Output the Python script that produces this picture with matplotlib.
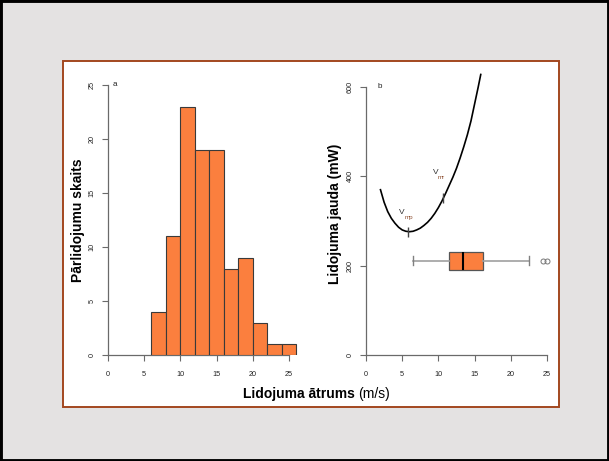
import matplotlib
matplotlib.use("Agg")
import matplotlib.pyplot as plt
from matplotlib.patches import Rectangle

plt.rcParams['font.family'] = ['Liberation Sans', 'DejaVu Sans']

# ---- data ----
bin_edges = [6, 8, 10, 12, 14, 16, 18, 20, 22, 24, 26]
bin_counts = [4, 11, 23, 19, 19, 8, 9, 3, 1, 1]

curve_speed = [2.0, 2.5, 3.0, 3.5, 4.0, 4.5, 5.0, 5.5, 6.0, 6.5, 7.0, 7.5, 8.0, 8.5,
               9.0, 9.5, 10.0, 10.5, 11.0, 11.5, 12.0, 12.5, 13.0, 13.5, 14.0,
               14.5, 15.0, 15.5, 15.85]
curve_power = [370, 342, 321, 306, 295, 286, 280, 277, 276, 277, 280, 284, 290, 297,
               306, 317, 330, 345, 362, 380, 398, 418, 441, 466, 493,
               524, 562, 600, 628]

vmp_speed, vmp_power = 5.76, 276
vmr_speed, vmr_power = 10.7, 352

box_q1, box_med, box_q3 = 11.5, 13.45, 16.1
whisker_lo, whisker_hi = 6.55, 22.5
box_outliers = [24.4, 25.05]
box_position = 211

a_xticks = [0, 5, 10, 15, 20, 25]
a_yticks = [0, 5, 10, 15, 20, 25]
b_xticks = [0, 5, 10, 15, 20, 25]
b_yticks = [0, 200, 400, 600]

W, H = 609, 461
fig = plt.figure(figsize=(W / 100, H / 100), dpi=100)
fig.patch.set_facecolor('#e4e2e2')

# white panel
fig.patches.append(Rectangle((63.3 / W, 1 - 406.7 / H), (559.3 - 63.3) / W, (406.7 - 60.7) / H,
                             transform=fig.transFigure, facecolor='white',
                             edgecolor='#a3471f', linewidth=1.4, zorder=-5))
# outer black frame
fig.patches.append(Rectangle((0, 0), 1, 1, transform=fig.transFigure, facecolor='none',
                             edgecolor='black', linewidth=3.5, zorder=10))

orange = '#fb7f3e'
axis_col = '#6a6a6a'
tick_fs = 5.2


def style_axes(ax, xb, yb):
    for s in ['top', 'right']:
        ax.spines[s].set_visible(False)
    for s in ['left', 'bottom']:
        ax.spines[s].set_color(axis_col)
        ax.spines[s].set_linewidth(0.9)
    ax.spines['left'].set_bounds(*yb)
    ax.spines['bottom'].set_bounds(*xb)
    ax.tick_params(direction='out', length=4.3, width=0.8, color=axis_col,
                   labelsize=tick_fs, labelcolor='#222222')
    ax.tick_params(axis='x', pad=7)
    ax.tick_params(axis='y', pad=4.5)
    for lab in ax.get_yticklabels():
        lab.set_rotation(90)
        lab.set_va('center')
    ax.set_facecolor('none')


# ---- panel a ----
xs, ys = 7.24, 10.8
axa = fig.add_axes([108 / W, (H - 355) / H, 26.6 * xs / W, 25.6 * ys / H])
axa.set_xlim(0, 26.6)
axa.set_ylim(0, 25.6)
lefts = bin_edges[:-1]
widths = [bin_edges[i + 1] - bin_edges[i] for i in range(len(lefts))]
axa.bar(lefts, bin_counts, width=widths, align='edge', color=orange,
        edgecolor='#3a3a3a', linewidth=0.8, zorder=3)
axa.set_xticks(a_xticks)
axa.set_yticks(a_yticks)
style_axes(axa, (0, 25), (0, 25))
axa.text(0.7, 25, 'a', fontsize=5.8, va='center', ha='left', color='#222222')

# ---- panel b ----
ysb = 0.4467
axb = fig.add_axes([366 / W, (H - 355) / H, 25.6 * xs / W, 640 * ysb / H])
axb.set_xlim(0, 25.6)
axb.set_ylim(0, 640)
axb.plot(curve_speed, curve_power, color='black', lw=1.2, zorder=3)
axb.plot([vmp_speed], [vmp_power], marker='|', ms=6.5, mew=1.0, color='#444444', zorder=4)
axb.plot([vmr_speed], [vmr_power], marker='|', ms=6.5, mew=1.0, color='#444444', zorder=4)

axb.text(vmp_speed - 0.75, vmp_power + 44, 'V', fontsize=6, ha='center', va='center', color='#333333')
axb.text(vmp_speed - 0.4, vmp_power + 32, 'mp', fontsize=4.5, ha='left', va='center', color='#8b4a2b')
axb.text(vmr_speed - 1.1, vmr_power + 57, 'V', fontsize=6, ha='center', va='center', color='#333333')
axb.text(vmr_speed - 0.75, vmr_power + 45, 'mr', fontsize=4.5, ha='left', va='center', color='#8b4a2b')

stats = [dict(med=box_med, q1=box_q1, q3=box_q3, whislo=whisker_lo, whishi=whisker_hi,
              fliers=box_outliers)]
axb.bxp(stats, positions=[box_position], widths=40, vert=False, patch_artist=True,
        showfliers=True,
        boxprops=dict(facecolor=orange, edgecolor='#555555', linewidth=0.9),
        whiskerprops=dict(color='#a0a0a0', linewidth=1.2, linestyle='-'),
        capprops=dict(color='#808080', linewidth=1.0),
        medianprops=dict(color='black', linewidth=1.5),
        flierprops=dict(marker='o', markersize=3.6, markerfacecolor='none',
                        markeredgecolor='#777777', markeredgewidth=0.7),
        manage_ticks=False)
axb.set_xticks(b_xticks)
axb.set_yticks(b_yticks)
style_axes(axb, (0, 25), (0, 600))
axb.text(1.93, 600, 'b', fontsize=5.8, va='center', ha='center', color='#222222')

# ---- labels ----
fig.text(78 / W, (H - 220) / H, 'Pārlidojumu skaits', rotation=90, fontsize=10,
         fontweight='bold', ha='center', va='center')
fig.text(335 / W, (H - 213.5) / H, 'Lidojuma jauda (mW)', rotation=90, fontsize=10,
         fontweight='bold', ha='center', va='center')
fig.text(355 / W, (H - 394) / H, 'Lidojuma ātrums', fontsize=10, fontweight='bold',
         ha='right', va='center')
fig.text(358 / W, (H - 394) / H, '(m/s)', fontsize=10, ha='left', va='center')

fig.savefig('out.png', dpi=100, facecolor=fig.get_facecolor())
